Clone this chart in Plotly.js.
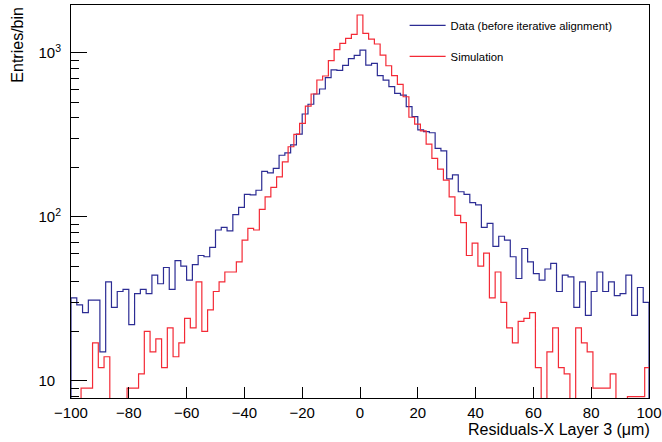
<!DOCTYPE html>
<html>
<head>
<meta charset="utf-8">
<script src="https://cdn.plot.ly/plotly-3.0.1.min.js"></script>
<style>
html,body{margin:0;padding:0;background:#fff;}
#chart{width:662px;height:442px;}
</style>
</head>
<body>
<div id="chart"></div>
<script>
// ---- Data ----
// Data histogram: 100 bins, from -100 to 100 um
const dataBinLow = -100;
const dataBinHigh = 100;
const dataCounts = [
  32, 29, 26, 31, 31, 15, 40, 28, 35, 36,
  22, 34, 36, 34, 44, 39, 49, 36, 54, 50,
  41, 51, 58, 57, 65, 83, 86, 82, 103, 114,
  137, 136, 145, 189, 185, 197, 237, 245, 274, 319,
  423, 485, 560, 601, 705, 785, 780, 837, 920, 964,
  1038, 841, 861, 725, 681, 621, 565, 552, 469, 408,
  338, 330, 325, 261, 252, 170, 180, 142, 137, 122,
  118, 86, 91, 66, 76, 72, 57, 42, 64, 53,
  45, 41, 48, 52, 35, 44, 43, 28, 40, 25,
  35, 46, 35, 40, 33, 34, 44, 25, 37, 30
];
// Simulation histogram: 101 bins, from -100.5 to 100.5 um
const simBinLow = -100.5;
const simBinHigh = 100.5;
const simCounts = [
  6, 6, 9, 9, 17, 12, 14, 6, 5, 6,
  9, 9, 11, 20, 15, 18, 12, 21, 14, 17,
  24, 21, 40, 20, 27, 35, 40, 46, 46, 53,
  72, 85, 83, 111, 132, 151, 175, 216, 267, 318,
  371, 473, 560, 682, 721, 894, 1045, 1141, 1224, 1294,
  1698, 1313, 1212, 1130, 968, 833, 724, 641, 539, 404,
  367, 334, 277, 227, 195, 167, 132, 102, 92, 58,
  69, 50, 60, 32, 46, 30, 21, 17, 23, 24,
  26, 12, 6, 15, 21, 12, 11, 6, 21, 17,
  15, 9, 9, 9, 11, 6, 5, 8, 8, 8,
  12
];
const seriesNames = ["Data (before iterative alignment)", "Simulation"];
const xTickVals = [-100, -80, -60, -40, -20, 0, 20, 40, 60, 80, 100];
const yTickVals = [10, 100, 1000];
const yTickText = ["10<sup>\u2007</sup>", "10<sup>2</sup>", "10<sup>3</sup>"];
const yMinorVals = [8, 9, 20, 30, 40, 50, 60, 70, 80, 90, 200, 300, 400, 500, 600, 700, 800, 900];

// ---- Build step outlines (histogram style) ----
function histOutline(lo, hi, counts, closeEnds) {
  const n = counts.length;
  const w = (hi - lo) / n;
  const xs = [], ys = [];
  if (closeEnds) { xs.push(lo); ys.push(1); }
  for (let i = 0; i < n; i++) { xs.push(lo + i * w); ys.push(counts[i]); }
  xs.push(hi); ys.push(counts[n - 1]);
  if (closeEnds) { xs.push(hi); ys.push(1); }
  return {x: xs, y: ys};
}

const dOut = histOutline(dataBinLow, dataBinHigh, dataCounts, true);
const sOut = histOutline(simBinLow, simBinHigh, simCounts, false);

const FONT = "Liberation Sans, Arial, Helvetica, sans-serif";

const traces = [
  {
    type: "scatter", mode: "lines", name: seriesNames[0],
    x: dOut.x, y: dOut.y,
    line: {shape: "hv", color: "#2c2c94", width: 1.2},
    legendgroup: "a", hoverinfo: "skip"
  },
  {
    type: "scatter", mode: "lines", name: seriesNames[1],
    x: sOut.x, y: sOut.y,
    line: {shape: "hv", color: "#f42a36", width: 1.2},
    legendgroup: "b", hoverinfo: "skip"
  }
];

const layout = {
  width: 662, height: 442,
  margin: {l: 71, r: 13, t: 5, b: 44, pad: 0},
  paper_bgcolor: "#ffffff", plot_bgcolor: "#ffffff",
  font: {family: FONT, size: 15, color: "#000"},
  showlegend: true,
  legend: {
    x: 0.5772, y: 0.985, xanchor: "left", yanchor: "top",
    bgcolor: "rgba(0,0,0,0)", borderwidth: 0,
    font: {family: FONT, size: 11.3, color: "#000"},
    traceorder: "grouped", tracegroupgap: 12,
    itemwidth: 36
  },
  xaxis: {
    range: [-100, 100], type: "linear",
    tickmode: "array", tickvals: xTickVals,
    ticks: "inside", ticklen: 11, tickwidth: 1, tickcolor: "#000",
    showline: true, linecolor: "#000", linewidth: 1, mirror: true,
    showgrid: false, zeroline: false,
    tickfont: {family: FONT, size: 15, color: "#000"},
    ticklabelstandoff: 1
  },
  yaxis: {
    type: "log", range: [0.8945, 3.291],
    tickmode: "array", tickvals: yTickVals, ticktext: yTickText,
    ticks: "inside", ticklen: 16, tickwidth: 1, tickcolor: "#000",
    minor: {tickmode: "array", tickvals: yMinorVals, ticks: "inside", ticklen: 8, tickwidth: 1, tickcolor: "#000", showgrid: false},
    showline: true, linecolor: "#000", linewidth: 1, mirror: true,
    showgrid: false, zeroline: false,
    tickfont: {family: FONT, size: 15, color: "#000"},
    ticklabelstandoff: 6
  },
  annotations: [
    {
      text: "Residuals-X Layer 3 (\u03bcm)",
      xref: "paper", yref: "paper", x: 1.006, y: -0.08,
      xanchor: "right", yanchor: "middle", showarrow: false,
      font: {family: FONT, size: 16, color: "#000"}
    },
    {
      text: "Entries/bin", textangle: -90,
      xref: "paper", yref: "paper", x: -0.094, y: 1.0,
      xanchor: "center", yanchor: "top", showarrow: false,
      font: {family: FONT, size: 16, color: "#000"}
    }
  ]
};

Plotly.newPlot("chart", traces, layout, {staticPlot: true, displayModeBar: false});
</script>
</body>
</html>
